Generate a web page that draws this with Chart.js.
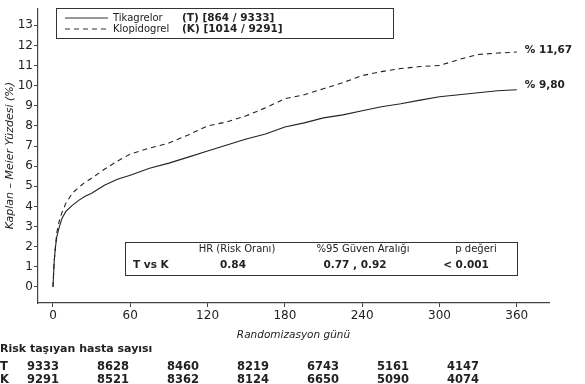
<!DOCTYPE html>
<html>
<head>
<meta charset="utf-8">
<script src="https://cdn.jsdelivr.net/npm/chart.js@4.4.1/dist/chart.umd.min.js"></script>
<style>
  html, body { margin: 0; padding: 0; background: #fff; }
  #wrap { width: 585px; height: 384px; position: relative; }
</style>
</head>
<body>
<div id="wrap"><canvas id="kmChart" width="585" height="384"></canvas></div>
<script>
////////////data////////////
var days = [0, 1, 2, 3, 5, 7, 10, 15, 20, 25, 30, 40, 50, 60, 75, 90, 105, 120, 135, 150, 165, 180, 195, 210, 225, 240, 255, 270, 285, 300, 315, 330, 345, 360];
var tikagrelor = [0, 1.3, 2.0, 2.5, 3.0, 3.4, 3.75, 4.05, 4.3, 4.5, 4.65, 5.05, 5.35, 5.55, 5.9, 6.15, 6.45, 6.75, 7.05, 7.35, 7.6, 7.95, 8.15, 8.4, 8.55, 8.75, 8.95, 9.1, 9.28, 9.45, 9.55, 9.65, 9.75, 9.80];
var klopidogrel = [0, 1.3, 2.05, 2.7, 3.3, 3.7, 4.15, 4.65, 4.95, 5.2, 5.4, 5.85, 6.25, 6.6, 6.9, 7.15, 7.55, 8.0, 8.2, 8.5, 8.9, 9.35, 9.55, 9.85, 10.15, 10.5, 10.7, 10.85, 10.95, 11.0, 11.3, 11.55, 11.62, 11.67];
var xTicks = [0, 60, 120, 180, 240, 300, 360];
var yTicks = [0, 1, 2, 3, 4, 5, 6, 7, 8, 9, 10, 11, 12, 13];
var legendNames = ['Tikagrelor', 'Klopidogrel'];
var legendCounts = ['(T) [864 / 9333]', '(K) [1014 / 9291]'];
var endLabels = ['% 9,80', '% 11,67'];
var hrHeaders = ['HR (Risk Oranı)', '%95 Güven Aralığı', 'p değeri'];
var hrRow = ['T vs K', '0.84', '0.77 , 0.92', '< 0.001'];
var riskTitle = 'Risk taşıyan hasta sayısı';
var riskT = [9333, 8628, 8460, 8219, 6743, 5161, 4147];
var riskK = [9291, 8521, 8362, 8124, 6650, 5090, 4074];

var FONT = '"DejaVu Sans", Verdana, sans-serif';
var INK = '#222';

function toPoints(arr) {
	return days.map(function(d, i) { return { x: d, y: arr[i] }; });
}

////////////extra drawing (legend box, HR box, end labels, risk table)////////////
var annotations = {
	id: 'annotations',
	afterDraw: function(chart) {
		var ctx = chart.ctx;
		var xs = chart.scales.x, ys = chart.scales.y;
		ctx.save();
		ctx.strokeStyle = '#333';
		ctx.fillStyle = INK;
		ctx.textBaseline = 'middle';

		//legend box
		ctx.lineWidth = 1;
		ctx.strokeRect(56.5, 8.5, 337, 30);
		[18, 29].forEach(function(y, i) {
			ctx.beginPath();
			ctx.lineWidth = 1.1;
			ctx.setLineDash(i === 0 ? [] : [5, 4]);
			ctx.moveTo(65, y); ctx.lineTo(108, y);
			ctx.stroke();
			ctx.setLineDash([]);
			ctx.font = '10px ' + FONT;
			ctx.textAlign = 'left';
			ctx.fillText(legendNames[i], 113, y);
			ctx.font = 'bold 10.5px ' + FONT;
			ctx.fillText(legendCounts[i], 182, y);
		});

		//HR box
		ctx.lineWidth = 1;
		ctx.strokeRect(125.5, 242.5, 392, 33);
		ctx.font = '10px ' + FONT;
		ctx.textAlign = 'center';
		ctx.fillText(hrHeaders[0], 237, 249);
		ctx.fillText(hrHeaders[1], 363, 249);
		ctx.fillText(hrHeaders[2], 476, 249);
		ctx.font = 'bold 10.5px ' + FONT;
		ctx.textAlign = 'left';
		ctx.fillText(hrRow[0], 133, 265);
		ctx.textAlign = 'center';
		ctx.fillText(hrRow[1], 233, 265);
		ctx.fillText(hrRow[2], 355, 265);
		ctx.fillText(hrRow[3], 466, 265);

		//end labels
		ctx.font = 'bold 10.5px ' + FONT;
		ctx.textAlign = 'left';
		var lastX = xs.getPixelForValue(days[days.length - 1]) + 8;
		ctx.fillText(endLabels[0], lastX, ys.getPixelForValue(tikagrelor[tikagrelor.length - 1]) - 4);
		ctx.fillText(endLabels[1], lastX, ys.getPixelForValue(klopidogrel[klopidogrel.length - 1]) - 2);

		//risk table
		ctx.font = 'bold 11px ' + FONT;
		ctx.fillText(riskTitle, 0, 349);
		ctx.font = 'bold 11.5px ' + FONT;
		ctx.fillText('T', 0, 367);
		ctx.fillText('K', 0, 380);
		riskT.forEach(function(v, i) {
			ctx.fillText(String(v), 27 + i * 70, 367);
			ctx.fillText(String(riskK[i]), 27 + i * 70, 380);
		});
		ctx.restore();
	}
};

////////////create chart////////////
var myChart = new Chart(document.getElementById('kmChart'), {
	type: 'line',
	data: {
		datasets: [{
			label: legendNames[0],
			data: toPoints(tikagrelor),
			borderColor: '#222',
			borderWidth: 1.1,
			pointRadius: 0,
			fill: false,
			tension: 0
		}, {
			label: legendNames[1],
			data: toPoints(klopidogrel),
			borderColor: '#222',
			borderWidth: 1.1,
			borderDash: [5, 4],
			pointRadius: 0,
			fill: false,
			tension: 0
		}]
	},
	options: {
		responsive: false,
		animation: false,
		layout: { padding: { top: 8, right: 36, bottom: 42, left: 0 } },
		plugins: {
			legend: { display: false },
			tooltip: { enabled: false }
		},
		scales: {
			x: {
				type: 'linear',
				min: -11.6,
				max: 385,
				afterBuildTicks: function(scale) {
					scale.ticks = xTicks.map(function(v) { return { value: v }; });
				},
				afterFit: function(scale) { scale.height = 39; },
				grid: { drawOnChartArea: false, drawTicks: true, tickLength: 4, color: '#444' },
				border: { color: '#444', width: 1.2 },
				ticks: { color: INK, font: { family: FONT, size: 12 }, padding: 2, maxRotation: 0 },
				title: { display: true, text: 'Randomizasyon günü', color: INK, font: { family: FONT, size: 10.5, style: 'italic' }, padding: { top: 0, bottom: 0 } }
			},
			y: {
				min: -0.8,
				max: 13.85,
				afterBuildTicks: function(scale) {
					scale.ticks = yTicks.map(function(v) { return { value: v }; });
				},
				afterFit: function(scale) { scale.width = 38; },
				grid: { drawOnChartArea: false, drawTicks: true, tickLength: 4, color: '#444' },
				border: { color: '#444', width: 1.2 },
				ticks: { color: INK, font: { family: FONT, size: 12 }, padding: 1 },
				title: { display: true, text: 'Kaplan – Meier Yüzdesi (%)', color: INK, font: { family: FONT, size: 11, style: 'italic' }, padding: { top: 4, bottom: 0 } }
			}
		}
	},
	plugins: [annotations]
}); //end new Chart
</script>
</body>
</html>
